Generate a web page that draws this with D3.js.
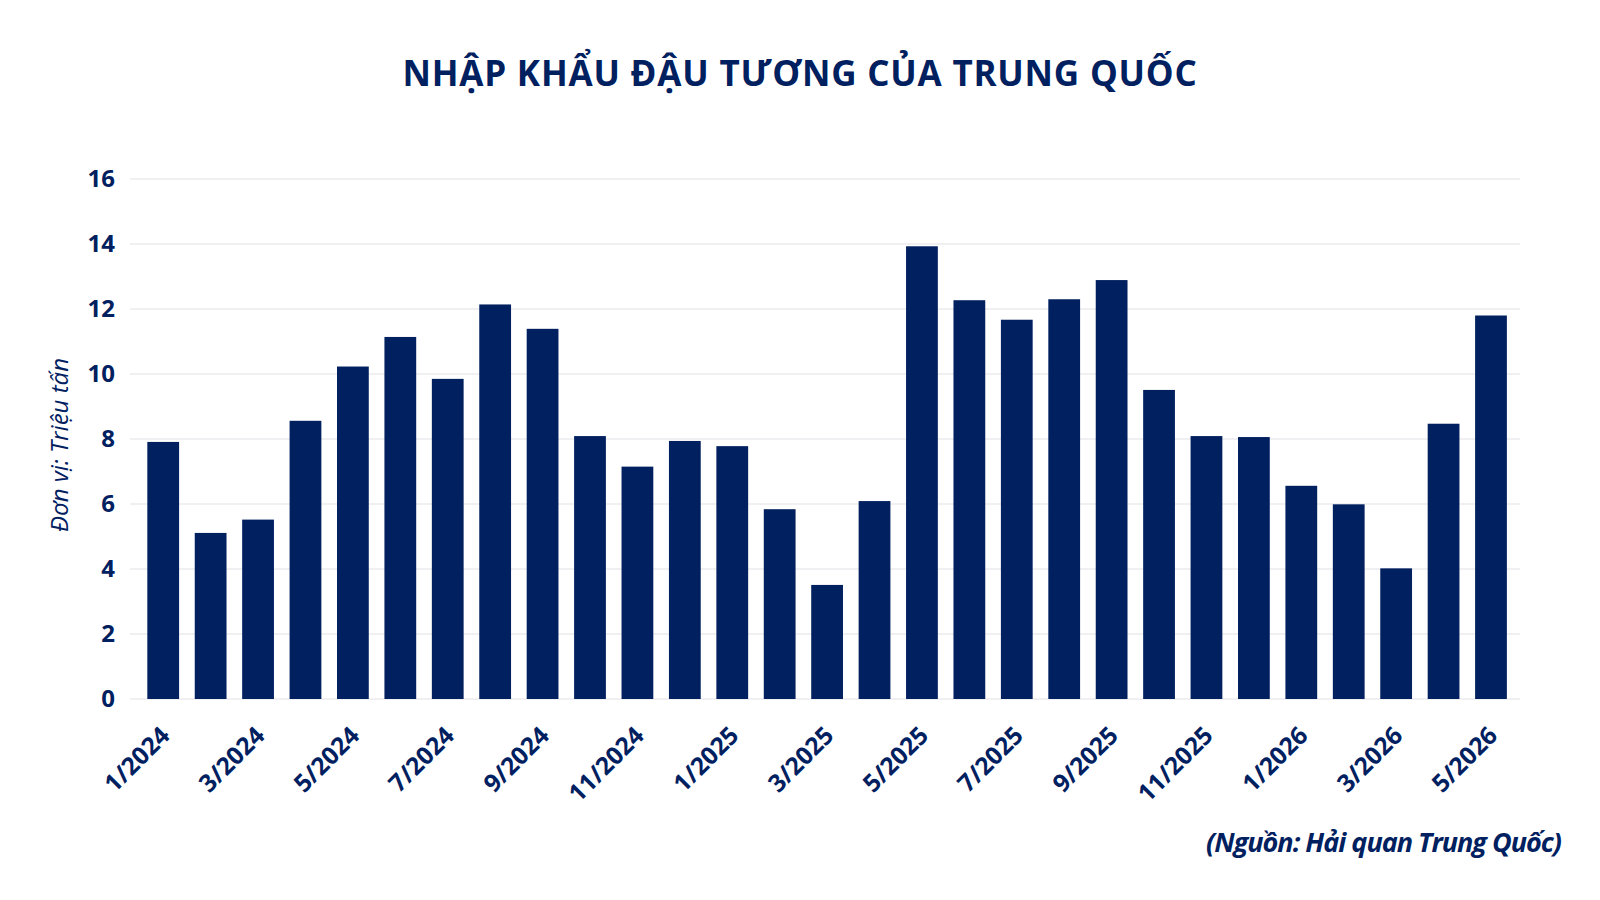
<!DOCTYPE html>
<html><head><meta charset="utf-8">
<script src="https://cdn.jsdelivr.net/npm/d3@7"></script>
<style>body{margin:0;background:#fff;}svg{display:block;font-family:"Open Sans",sans-serif;}</style>
</head><body>
<svg id="c" width="1600" height="900"></svg>
<script>
const months = ["1/2024","2/2024","3/2024","4/2024","5/2024","6/2024","7/2024","8/2024","9/2024","10/2024","11/2024","12/2024",
"1/2025","2/2025","3/2025","4/2025","5/2025","6/2025","7/2025","8/2025","9/2025","10/2025","11/2025","12/2025",
"1/2026","2/2026","3/2026","4/2026","5/2026"];
const imports = [7.91,5.11,5.52,8.56,10.23,11.14,9.85,12.14,11.39,8.09,7.15,7.94,
7.78,5.84,3.51,6.09,13.93,12.27,11.67,12.30,12.89,9.51,8.09,8.06,
6.56,5.99,4.02,8.47,11.80];
const yTicks = [0,2,4,6,8,10,12,14,16];
const title = "NHẬP KHẨU ĐẬU TƯƠNG CỦA TRUNG QUỐC";
const yLabel = "Đơn vị: Triệu tấn";
const source = "(Nguồn: Hải quan Trung Quốc)";

const navy = "#00205f";
const svg = d3.select("#c");
const x = d3.scaleBand().domain(months).range([139.5,1514.7]).paddingInner(0.33).paddingOuter(0.165);
const y = d3.scaleLinear().domain([0,16]).range([699,179]);

// grid
svg.append("g").selectAll("line").data(yTicks).join("line")
  .attr("x1",130).attr("x2",1520).attr("y1",d=>y(d)).attr("y2",d=>y(d))
  .attr("stroke","#ebebef").attr("stroke-width",1.3);

// y axis labels
const ya = svg.append("g").attr("transform","translate(115,0)")
  .call(d3.axisLeft(y).tickValues(yTicks).tickSize(0).tickPadding(0));
ya.select(".domain").remove();
ya.selectAll("text").attr("font-family","Open Sans").attr("font-size",24).attr("font-weight",700).attr("fill",navy);

// bars
svg.append("g").selectAll("rect").data(months).join("rect")
  .attr("x",d=>x(d)).attr("width",x.bandwidth())
  .attr("y",(d,i)=>y(imports[i])).attr("height",(d,i)=>y(0)-y(imports[i]))
  .attr("fill",navy);

// x axis labels
const xa = svg.append("g").attr("transform","translate(0,699)")
  .call(d3.axisBottom(x).tickValues(months.filter((d,i)=>i%2===0)).tickSize(0).tickPadding(0));
xa.select(".domain").remove();
xa.selectAll("text").attr("font-family","Open Sans").attr("font-size",24.5).attr("font-weight",700).attr("fill",navy)
  .attr("text-anchor","end").attr("dy","0").attr("y",0).attr("transform","translate(8,38) rotate(-45)");

// title
svg.append("text").attr("x",800).attr("y",86).attr("text-anchor","middle")
  .attr("font-size",35).attr("font-weight",700).attr("letter-spacing",0.8).attr("fill",navy).text(title);

// y label
svg.append("text").attr("transform","translate(68,445) rotate(-90)").attr("text-anchor","middle")
  .attr("font-size",24).attr("font-style","italic").attr("fill",navy).text(yLabel);

// source
svg.append("text").attr("x",1561).attr("y",852).attr("text-anchor","end")
  .attr("font-size",27).attr("font-weight",700).attr("font-style","italic").attr("letter-spacing",-1.0).attr("fill",navy).text(source);
</script>
</body></html>
